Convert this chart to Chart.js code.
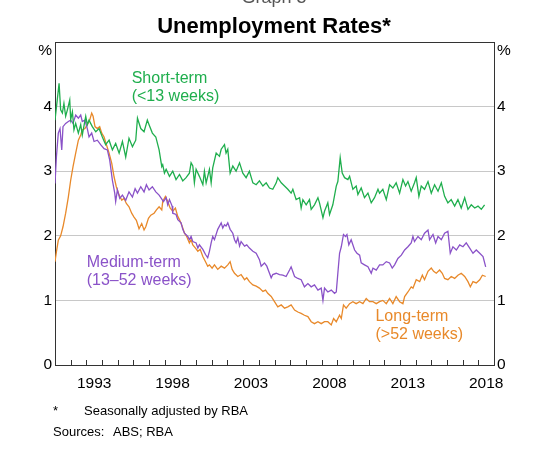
<!DOCTYPE html>
<html>
<head>
<meta charset="utf-8">
<script src="https://cdn.jsdelivr.net/npm/chart.js@4.4.1/dist/chart.umd.min.js"></script>
<style>
  html, body { margin: 0; padding: 0; background: #fff; }
  #wrap { position: relative; width: 540px; height: 457px; overflow: hidden; font-family: 'Liberation Sans', Arial, sans-serif; }
  #c { position: absolute; left: 0; top: 0; }
  .t { position: absolute; white-space: nowrap; }
  #graphno { left: 0; width: 548px; text-align: center; top: -12px; font-size: 18px; line-height: 18px; color: #555; }
  #title { left: 0; width: 548px; text-align: center; top: 15px; font-size: 22px; line-height: 22px; font-weight: bold; color: #000; }
  .fn { font-size: 13px; line-height: 13px; color: #000; }
</style>
</head>
<body>
<div id="wrap">
  <canvas id="c" width="540" height="457"></canvas>
  <div class="t" id="graphno">Graph 5</div>
  <div class="t" id="title">Unemployment Rates*</div>
  <div class="t fn" style="left:53px; top:404px;">*</div>
  <div class="t fn" style="left:84px; top:404px;">Seasonally adjusted by RBA</div>
  <div class="t fn" style="left:53px; top:425px;">Sources:</div>
  <div class="t fn" style="left:113px; top:425px;">ABS; RBA</div>
</div>
<script>
// ---- data ----
const xLabelYears = [1993, 1998, 2003, 2008, 2013, 2018];
const yTicks = [0, 1, 2, 3, 4];

const shortYears = [1991.00,1991.26,1991.36,1991.47,1991.57,1991.68,1991.79,1991.94,1992.00,1992.11,
1992.21,1992.32,1992.49,1992.64,1992.74,1992.96,1993.06,1993.17,1993.38,1993.60,
1993.81,1994.02,1994.23,1994.45,1994.66,1994.87,1995.09,1995.30,1995.51,1995.72,
1995.94,1996.15,1996.26,1996.47,1996.68,1996.89,1997.00,1997.21,1997.43,1997.64,
1997.81,1997.87,1997.98,1998.09,1998.30,1998.51,1998.72,1998.94,1999.15,1999.36,
1999.57,1999.68,1999.79,1999.89,2000.00,2000.21,2000.43,2000.53,2000.64,2000.85,
2000.96,2001.06,2001.28,2001.49,2001.60,2001.81,2001.91,2002.02,2002.17,2002.34,
2002.55,2002.77,2002.98,2003.19,2003.40,2003.62,2003.83,2004.04,2004.26,2004.47,
2004.68,2004.89,2005.11,2005.21,2005.43,2005.64,2005.85,2006.06,2006.17,2006.38,
2006.60,2006.70,2006.81,2007.02,2007.23,2007.34,2007.55,2007.77,2007.87,2008.09,
2008.19,2008.40,2008.51,2008.72,2008.94,2009.04,2009.19,2009.32,2009.47,2009.68,
2009.79,2010.00,2010.21,2010.32,2010.53,2010.74,2010.96,2011.17,2011.38,2011.60,
2011.70,2011.91,2012.13,2012.34,2012.55,2012.76,2012.98,2013.19,2013.36,2013.51,
2013.72,2013.93,2014.04,2014.21,2014.36,2014.57,2014.79,2015.00,2015.21,2015.43,
2015.64,2015.85,2016.06,2016.27,2016.49,2016.70,2016.91,2017.13,2017.34,2017.55,
2017.77,2017.98,2018.19,2018.40];
const shortRates = [3.79,4.36,3.95,3.90,4.05,3.85,3.95,4.10,3.80,3.92,
3.64,3.74,3.59,3.72,3.56,3.85,3.72,3.79,3.69,3.61,
3.66,3.53,3.41,3.48,3.33,3.43,3.28,3.46,3.22,3.51,
3.38,3.48,3.82,3.66,3.61,3.79,3.72,3.59,3.53,3.33,
3.07,3.10,2.97,3.03,2.92,3.00,2.87,2.95,2.85,2.90,
2.97,3.13,3.08,2.82,3.03,2.92,2.79,3.00,2.82,3.03,
2.82,3.05,3.28,3.23,3.34,3.41,3.28,3.34,2.97,3.08,
3.00,3.13,2.97,2.90,3.00,2.82,2.79,2.85,2.77,2.82,
2.74,2.72,2.82,2.90,2.82,2.77,2.72,2.66,2.72,2.56,
2.59,2.43,2.56,2.48,2.56,2.41,2.48,2.59,2.51,2.28,
2.38,2.51,2.33,2.48,2.77,2.84,3.21,2.97,2.90,2.87,
2.92,2.72,2.77,2.64,2.74,2.59,2.66,2.51,2.59,2.72,
2.66,2.72,2.56,2.79,2.74,2.82,2.66,2.87,2.77,2.84,
2.69,2.82,2.90,2.61,2.77,2.72,2.84,2.66,2.79,2.69,
2.82,2.61,2.51,2.56,2.46,2.56,2.43,2.59,2.41,2.48,
2.43,2.46,2.41,2.48];

const mediumYears = [1991.00,1991.09,1991.21,1991.32,1991.43,1991.51,1991.68,1991.85,1992.00,1992.15,
1992.32,1992.49,1992.64,1992.74,1992.91,1993.06,1993.17,1993.34,1993.49,1993.70,
1993.91,1994.13,1994.34,1994.49,1994.66,1994.81,1994.87,1994.98,1995.13,1995.30,
1995.51,1995.72,1995.94,1996.11,1996.26,1996.47,1996.68,1996.83,1997.00,1997.21,
1997.43,1997.64,1997.92,1998.09,1998.19,1998.30,1998.47,1998.51,1998.72,1998.83,
1999.04,1999.15,1999.26,1999.47,1999.57,1999.68,1999.79,2000.00,2000.11,2000.21,
2000.43,2000.60,2000.74,2000.85,2000.96,2001.06,2001.17,2001.38,2001.49,2001.60,
2001.70,2001.81,2001.91,2002.02,2002.17,2002.34,2002.45,2002.55,2002.66,2002.77,
2002.87,2003.09,2003.23,2003.40,2003.62,2003.83,2004.04,2004.15,2004.36,2004.51,
2004.68,2004.79,2004.89,2005.11,2005.32,2005.53,2005.74,2005.96,2006.06,2006.28,
2006.49,2006.70,2006.91,2007.13,2007.34,2007.55,2007.77,2007.98,2008.09,2008.19,
2008.40,2008.62,2008.83,2008.94,2009.04,2009.15,2009.26,2009.40,2009.53,2009.62,
2009.74,2009.89,2010.11,2010.26,2010.43,2010.53,2010.74,2010.96,2011.17,2011.28,
2011.49,2011.70,2011.91,2012.13,2012.34,2012.51,2012.66,2012.87,2013.09,2013.30,
2013.51,2013.72,2013.83,2013.93,2014.15,2014.36,2014.57,2014.79,2014.89,2015.11,
2015.28,2015.43,2015.64,2015.85,2016.06,2016.21,2016.38,2016.60,2016.81,2017.02,
2017.23,2017.45,2017.66,2017.87,2018.09,2018.30,2018.47];
const mediumRates = [2.81,3.22,3.59,3.66,3.33,3.69,3.74,3.77,3.79,3.74,
3.87,3.82,3.87,3.77,3.79,3.66,3.53,3.59,3.46,3.48,
3.41,3.35,3.33,3.17,2.86,2.66,2.53,2.71,2.58,2.63,
2.55,2.68,2.60,2.73,2.66,2.76,2.68,2.79,2.71,2.76,
2.68,2.63,2.53,2.59,2.48,2.56,2.46,2.35,2.33,2.25,
2.20,2.10,2.04,1.99,1.94,1.99,1.91,1.89,1.81,1.86,
1.79,1.71,1.66,1.76,1.89,1.99,1.94,2.10,2.15,2.20,
2.12,2.17,2.15,2.20,2.10,2.04,1.94,1.89,1.97,1.84,
1.91,1.84,1.86,1.81,1.76,1.73,1.63,1.53,1.58,1.53,
1.42,1.35,1.40,1.42,1.40,1.39,1.37,1.47,1.52,1.37,
1.34,1.32,1.21,1.26,1.21,1.24,1.16,1.19,1.00,1.19,
1.13,1.16,1.11,1.13,1.42,1.73,1.83,2.02,1.99,2.02,
1.86,1.94,1.78,1.73,1.70,1.58,1.55,1.52,1.42,1.50,
1.47,1.55,1.55,1.60,1.58,1.50,1.55,1.65,1.70,1.78,
1.83,1.89,1.99,1.91,1.99,1.94,2.04,2.09,1.94,2.02,
1.89,1.99,1.94,2.04,2.07,1.73,1.83,1.78,1.86,1.83,
1.89,1.81,1.73,1.78,1.73,1.68,1.52];

const longYears = [1991.00,1991.09,1991.21,1991.36,1991.51,1991.68,1991.85,1992.00,1992.15,1992.32,
1992.49,1992.64,1992.74,1992.91,1993.06,1993.21,1993.34,1993.43,1993.55,1993.70,
1993.85,1993.98,1994.13,1994.28,1994.45,1994.62,1994.77,1994.91,1995.09,1995.26,
1995.40,1995.55,1995.72,1995.89,1996.04,1996.19,1996.36,1996.53,1996.68,1996.79,
1996.96,1997.11,1997.32,1997.47,1997.64,1997.81,1997.87,1998.04,1998.19,1998.34,
1998.51,1998.68,1998.83,1998.94,1999.11,1999.26,1999.40,1999.57,1999.68,1999.79,
1999.96,2000.11,2000.26,2000.43,2000.64,2000.74,2000.85,2001.02,2001.17,2001.38,
2001.60,2001.81,2002.02,2002.17,2002.30,2002.45,2002.66,2002.87,2003.09,2003.23,
2003.40,2003.62,2003.83,2004.04,2004.26,2004.43,2004.57,2004.79,2005.00,2005.21,
2005.43,2005.64,2005.85,2006.06,2006.28,2006.49,2006.70,2006.91,2007.13,2007.34,
2007.55,2007.77,2007.98,2008.19,2008.40,2008.62,2008.77,2008.94,2009.15,2009.26,
2009.40,2009.57,2009.79,2010.00,2010.21,2010.43,2010.64,2010.85,2011.06,2011.28,
2011.49,2011.70,2011.91,2012.13,2012.34,2012.55,2012.76,2012.98,2013.19,2013.30,
2013.51,2013.72,2013.83,2014.04,2014.26,2014.43,2014.57,2014.79,2015.00,2015.15,
2015.32,2015.53,2015.70,2015.85,2016.06,2016.27,2016.49,2016.70,2016.91,2017.13,
2017.34,2017.49,2017.66,2017.87,2018.09,2018.26,2018.47];
const longRates = [1.60,1.75,1.93,2.00,2.14,2.35,2.60,2.86,3.07,3.28,
3.48,3.56,3.64,3.66,3.72,3.79,3.90,3.85,3.69,3.66,
3.69,3.59,3.53,3.41,3.28,3.12,2.91,2.76,2.63,2.55,
2.58,2.50,2.45,2.35,2.29,2.24,2.11,2.19,2.09,2.14,
2.27,2.32,2.35,2.40,2.45,2.40,2.53,2.61,2.53,2.43,
2.38,2.43,2.30,2.25,2.15,2.04,1.99,1.89,1.94,1.86,
1.81,1.76,1.79,1.68,1.58,1.53,1.55,1.50,1.55,1.48,
1.53,1.50,1.55,1.60,1.48,1.42,1.37,1.40,1.32,1.35,
1.29,1.24,1.22,1.19,1.14,1.16,1.11,1.06,0.98,0.90,
0.93,0.88,0.90,0.93,0.85,0.82,0.80,0.77,0.75,0.67,
0.64,0.67,0.64,0.67,0.67,0.62,0.72,0.67,0.77,0.72,
0.93,0.88,0.95,0.98,0.95,0.98,0.95,1.03,0.98,0.98,
0.95,0.98,1.00,0.95,1.03,0.95,1.06,0.98,0.95,1.06,
1.13,1.21,1.19,1.32,1.29,1.39,1.32,1.45,1.50,1.45,
1.42,1.47,1.42,1.34,1.32,1.37,1.34,1.39,1.42,1.37,
1.29,1.21,1.29,1.27,1.32,1.39,1.37];

// ---- styling / layout ----
const GREEN = '#1fae4d', PURPLE = '#8a52c8', ORANGE = '#e8892a';
const FONT = "'Liberation Sans', Arial, sans-serif";
const X_MIN = 1991, X_MAX = 2019, Y_MIN = 0, Y_MAX = 5;
const PCT_POS = 4.865;            // where the "%" unit label sits
const minorTickYears = [];
for (let y = X_MIN + 1; y < X_MAX; y++) minorTickYears.push(y);

const seriesLabels = [
  { lines: ['Short-term', '(<13 weeks)'], color: GREEN,  x: 1995.89, y: 4.44, dy: 4.16 },
  { lines: ['Medium-term', '(13\u201352 weeks)'], color: PURPLE, x: 1993.02, y: 1.58, dy: 1.30 },
  { lines: ['Long-term', '(>52 weeks)'], color: ORANGE, x: 2011.44, y: 0.75, dy: 0.47 }
];

const toPoints = (xs, ys) => xs.map((x, i) => ({ x: x, y: ys[i] }));

const framePlugin = {
  id: 'frame',
  afterDatasetsDraw(chart) {
    const { ctx, chartArea: a, scales } = chart;
    ctx.save();
    // series labels
    ctx.textAlign = 'left';
    ctx.textBaseline = 'middle';
    ctx.font = '16px ' + FONT;
    seriesLabels.forEach(l => {
      ctx.fillStyle = l.color;
      const px = scales.x.getPixelForValue(l.x);
      ctx.fillText(l.lines[0], px, scales.y.getPixelForValue(l.y));
      ctx.fillText(l.lines[1], px, scales.y.getPixelForValue(l.dy));
    });
    ctx.restore();
  },
  afterDraw(chart) {
    const { ctx, chartArea: a, scales } = chart;
    ctx.save();
    ctx.strokeStyle = '#333';
    ctx.lineWidth = 1;
    ctx.beginPath();
    ctx.moveTo(a.left, Math.round(a.top) + 0.5);
    ctx.lineTo(a.right, Math.round(a.top) + 0.5);
    minorTickYears.forEach(yr => {
      const px = Math.round(scales.x.getPixelForValue(yr)) + 0.5;
      ctx.moveTo(px, a.bottom);
      ctx.lineTo(px, a.bottom - 5);
    });
    ctx.stroke();
    ctx.restore();
  }
};

const yAxis = (pos, width, grid) => ({
  type: 'linear',
  position: pos,
  display: true,
  min: Y_MIN, max: Y_MAX,
  afterBuildTicks: axis => { axis.ticks = yTicks.concat([PCT_POS]).map(v => ({ value: v })); },
  afterFit: s => { s.width = width; },
  ticks: {
    padding: 3,
    color: '#000',
    font: { family: FONT, size: 15.5 },
    callback: v => (v > 4.5 ? '%' : String(v))
  },
  grid: grid ? {
    drawTicks: false,
    lineWidth: 1,
    color: c => (c.tick && c.tick.value > 0 && c.tick.value < 4.5) ? '#c8c8c8' : 'rgba(0,0,0,0)'
  } : { display: false, drawTicks: false },
  border: { display: true, color: '#333', width: 1 }
});

new Chart(document.getElementById('c'), {
  type: 'line',
  data: {
    datasets: [
      { label: 'Short-term', data: toPoints(shortYears, shortRates), borderColor: GREEN },
      { label: 'Medium-term', data: toPoints(mediumYears, mediumRates), borderColor: PURPLE },
      { label: 'Long-term', data: toPoints(longYears, longRates), borderColor: ORANGE }
    ]
  },
  options: {
    responsive: false,
    animation: false,
    devicePixelRatio: 1,
    layout: { padding: { top: 42, left: 0, right: 0, bottom: 0 } },
    elements: {
      point: { radius: 0, hoverRadius: 0 },
      line: { borderWidth: 1.3, tension: 0, fill: false }
    },
    plugins: { legend: { display: false }, title: { display: false }, tooltip: { enabled: false } },
    scales: {
      x: {
        type: 'linear',
        position: 'bottom',
        min: X_MIN, max: X_MAX,
        afterBuildTicks: axis => { axis.ticks = xLabelYears.map(y => ({ value: y + 0.5 })); },
        afterFit: s => { s.height = 92; },
        ticks: {
          padding: 9,
          autoSkip: false,
          maxRotation: 0,
          color: '#000',
          font: { family: FONT, size: 15.5 },
          callback: v => String(Math.floor(v))
        },
        grid: { display: false, drawTicks: false },
        border: { display: true, color: '#333', width: 1 }
      },
      y: yAxis('left', 55, true),
      y2: yAxis('right', 46, false)
    }
  },
  plugins: [framePlugin]
});
</script>
</body>
</html>
